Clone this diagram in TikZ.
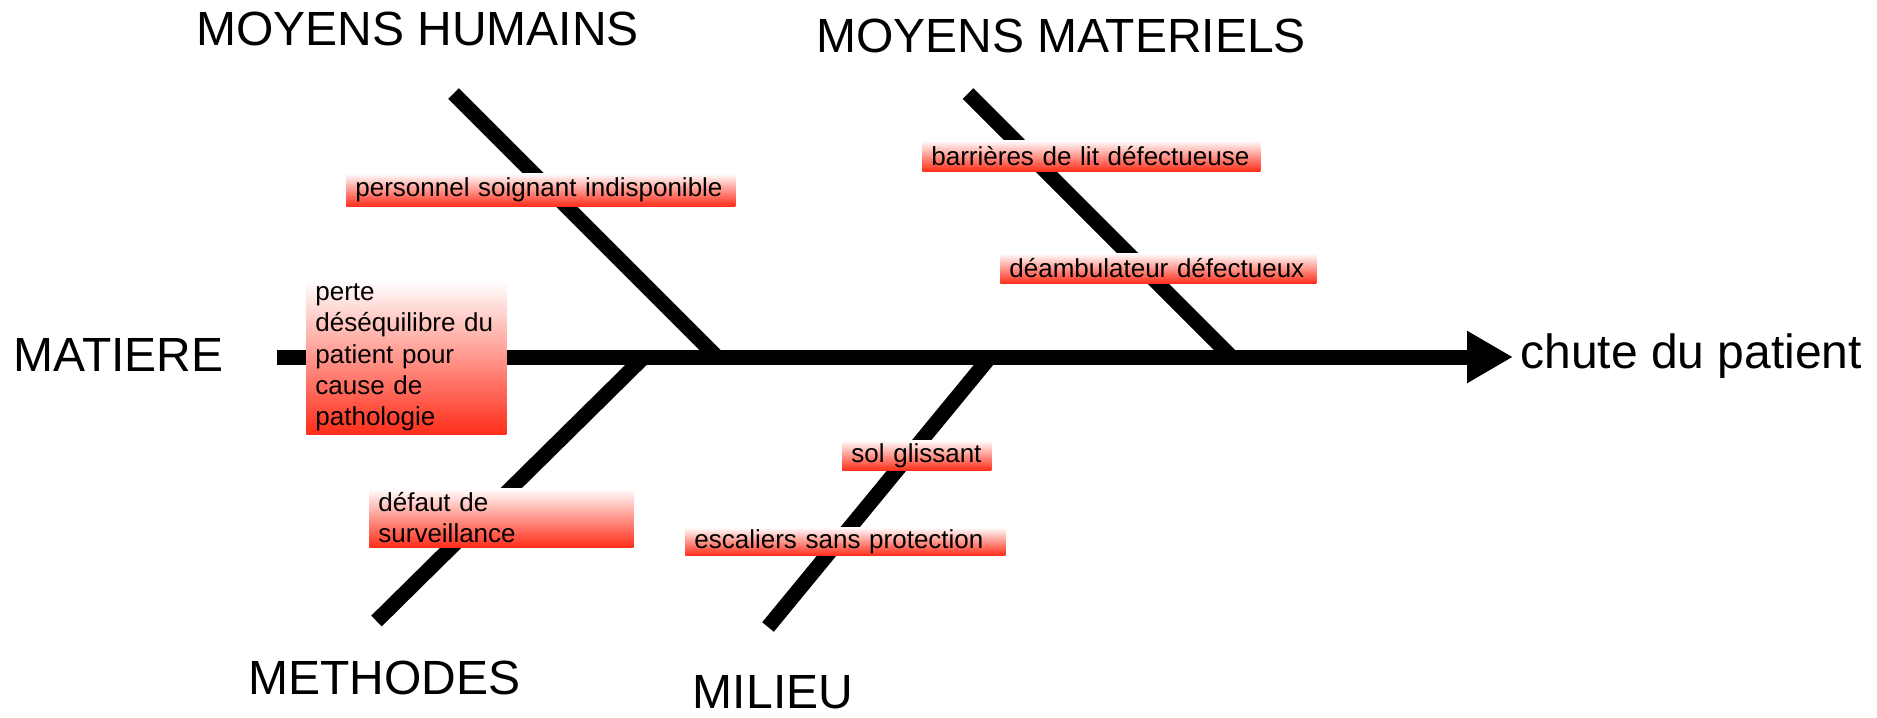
\documentclass[tikz,border=0pt]{standalone}
\usepackage{fontspec}
\setmainfont{Liberation Sans}
\usetikzlibrary{positioning,arrows.meta}
\definecolor{causered}{RGB}{255,45,25}

\begin{document}
\begin{tikzpicture}[
    x=0.5pt, y=-0.5pt,
    bone/.style={line width=7.5pt},
    spine/.style={line width=7.5pt, -{Triangle[length=23pt, width=24.5pt]}},
    family/.style={inner sep=0pt, font=\fontsize{24pt}{28pt}\selectfont},
    cause/.style={anchor=north west, top color=white, bottom color=causered, align=left,
                  inner xsep=4.5pt, inner ysep=0pt, font=\fontsize{13pt}{15.6pt}\selectfont}
]
\useasboundingbox (0,0) rectangle (1877,717);

% branches
\coordinate (humtop)   at (453.5,93.5);
\coordinate (humjoin)  at (717,357);
\coordinate (mattop)   at (968,93.5);
\coordinate (matjoin)  at (1231.5,357);
\coordinate (methend)  at (376.5,621);
\coordinate (methjoin) at (644,357);
\coordinate (milend)   at (768,627);
\coordinate (miljoin)  at (990,357);
\coordinate (spinestart) at (277,357);
\coordinate (spineend)   at (1513,357);

\draw[bone] (humtop) -- (humjoin);
\draw[bone] (mattop) -- (matjoin);
\draw[bone] (methend) -- (methjoin);
\draw[bone] (milend) -- (miljoin);
\draw[spine] (spinestart) -- (spineend);

% families and effect
\node[family] (humains)   at (417.5,29)  {MOYENS HUMAINS};
\node[family] (materiels) at (1061,35.5) {MOYENS MATERIELS};
\node[family] (matiere)   at (118.5,355) {MATIERE};
\node[family] (methodes)  at (384.5,677.5) {METHODES};
\node[family] (milieu)    at (773,692)   {MILIEU};
\node[family, anchor=base west] (effect) at (1520,368) {chute du patient};

% causes
\node[cause, text width=185.5pt, minimum height=16.5pt] (personnel) at (346,173) {personnel soignant indisponible};
\node[cause, text width=160pt, minimum height=15.5pt] (barrieres) at (922,140) {barrières de lit défectueuse};
\node[cause, text width=149pt, minimum height=15pt] (deambulateur) at (1000,253) {déambulateur défectueux};
\node[cause, text width=91pt, minimum height=77pt] (perte) at (306,280) {perte\\déséquilibre du\\patient pour\\cause de\\pathologie};
\node[cause, text width=123pt, minimum height=29.5pt] (defaut) at (369,488) {défaut de\\surveillance};
\node[cause, text width=65.5pt, minimum height=15pt] (sol) at (842,440) {sol glissant};
\node[cause, text width=151pt, minimum height=14pt] (escaliers) at (685,527) {escaliers sans protection};
\end{tikzpicture}
\end{document}
